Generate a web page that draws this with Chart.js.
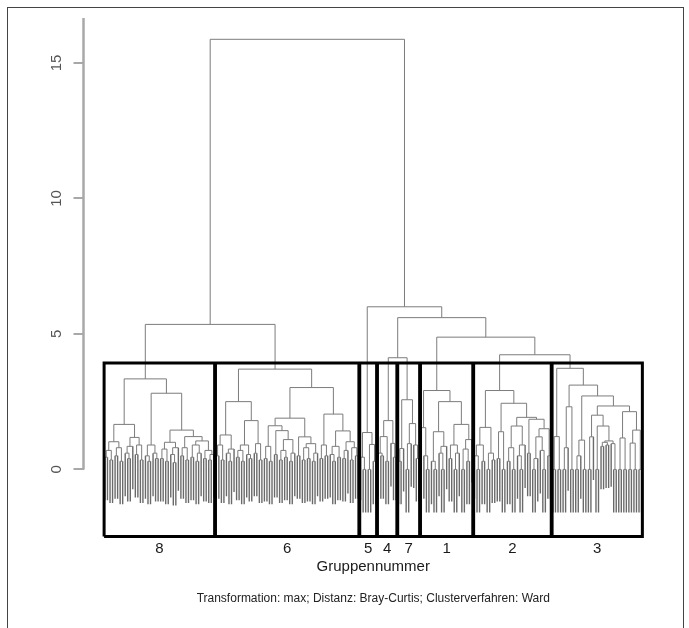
<!DOCTYPE html>
<html>
<head>
<meta charset="utf-8">
<script src="https://cdn.jsdelivr.net/npm/chart.js@4"></script>
<style>
  html, body { margin: 0; padding: 0; background: #fff; }
  #wrap { position: relative; width: 689px; height: 628px; overflow: hidden; }
  #frame { position: absolute; left: 7px; top: 7px; width: 675px; height: 700px; border: 1px solid #444; }
  #chart { position: absolute; left: 0; top: 0; }
</style>
</head>
<body>
<div id="wrap">
  <div id="frame"></div>
  <canvas id="chart" width="689" height="628"></canvas>
</div>
<script>
// groups in the order they appear along the bottom
const groups = ['8', '6', '5', '4', '7', '1', '2', '3'];

// height where each group joins its right-hand neighbour (8|6, 6|5, 5|4, ...)
const joinHeights = [5.35, 15.87, 6.0, 4.12, 5.6, 4.88, 4.23];

// merge height between neighbouring leaves inside each group
const gaps8 = [0.45, 0.7, 0.35, 1.02, 0.5, 0.8, 0.3, 1.66, 0.6, 0.4, 0.85, 1.18, 0.55, 0.9, 0.35,
  3.34, 0.5, 0.3, 0.9, 0.6, 0.4, 2.81, 0.4, 0.75, 0.3, 1.0, 0.55, 0.25, 0.8, 1.45, 0.5, 0.8, 0.35,
  1.21, 0.45, 0.9, 0.3, 0.6, 1.05, 0.4, 0.7, 0.35, 0.55];
const gaps6 = [0.5, 0.9, 0.35, 1.27, 0.6, 0.3, 0.75, 2.50, 0.45, 0.7, 0.3, 0.9, 0.55, 0.4, 1.80,
  0.6, 0.95, 0.35, 3.70, 0.4, 0.85, 0.3, 1.61, 0.55, 1.43, 0.35, 0.7, 0.45, 1.1, 0.3, 0.6, 1.89,
  0.5, 1.2, 0.35, 0.8, 0.4, 0.95, 0.3, 0.6, 3.02, 0.4, 0.9, 0.5, 2.04, 0.55, 0.3, 0.85, 0.45,
  1.42, 0.4, 0.7, 1.02, 0.35, 0.8, 0.5];
const gaps5 = [0.45, 0.0, 1.36, 0.0, 0.92, 0.3];
const gaps4 = [0.6, 0.5, 1.21, 0.3, 1.80, 0.96, 0.45];
const gaps7 = [0.3, 0.77, 2.57, 0.0, 0.95, 1.69, 0.9, 0.4];
const gaps1 = [1.54, 0.5, 0.0, 2.91, 0.3, 0.0, 1.39, 0.6, 0.0, 0.85, 2.50, 0.4, 0.9, 0.0, 0.6,
  1.66, 0.0, 0.75, 0.3, 1.1];
const gaps2 = [0.5, 0.0, 0.9, 0.3, 1.55, 0.0, 0.6, 0.35, 2.91, 0.4, 1.39, 0.0, 2.44, 0.3, 0.8,
  0.0, 1.6, 0.5, 0.0, 0.9, 1.92, 0.6, 1.85, 0.0, 0.4, 1.2, 0.7, 0.0, 1.5, 0.5];
const gaps3 = [0.0, 1.21, 0.0, 3.73, 0.0, 0.8, 2.31, 0.0, 3.11, 0.0, 0.5, 1.08, 0.0, 2.71, 0.0,
  1.2, 2.0, 0.0, 1.6, 0.85, 1.0, 0.9, 1.05, 0.95, 0.0, 2.34, 0.0, 1.16, 0.0, 2.13, 0.0, 0.97,
  0.0, 1.45, 0.0];

const yTicks = [0, 5, 10, 15];
const axisTop = 16.66;
const boxBottom = -2.48;

const xTitle = 'Gruppennummer';
const subTitle = 'Transformation: max; Distanz: Bray-Curtis; Clusterverfahren: Ward';

// ---- build the dendrogram from the neighbour heights ----
const groupGaps = [gaps8, gaps6, gaps5, gaps4, gaps7, gaps1, gaps2, gaps3];
const sizes = groupGaps.map(g => g.length + 1);
let gaps = [];
groupGaps.forEach((g, i) => {
  gaps = gaps.concat(g);
  if (i < joinHeights.length) gaps.push(joinHeights[i]);
});
const n = gaps.length + 1;
const hang = 0.1 * Math.max(...gaps);

const treePts = [];
const leafPts = [];
function seg(pts, x1, y1, x2, y2) {
  pts.push({ x: x1, y: y1 }, { x: x2, y: y2 }, { x: x2, y: null });
}

function build(lo, hi) {
  if (lo === hi) return { x: lo + 1, leaf: true };
  let k = lo;
  for (let j = lo; j < hi; j++) if (gaps[j] > gaps[k]) k = j;
  const h = gaps[k];
  const l = build(lo, k);
  const r = build(k + 1, hi);
  [l, r].forEach(c => {
    if (c.leaf) seg(leafPts, c.x, h - hang, c.x, h);
    else seg(treePts, c.x, c.h, c.x, h);
  });
  seg(treePts, l.x, h, r.x, h);
  return { x: (l.x + r.x) / 2, h: h };
}
build(0, n - 1);

// group rectangles like rect.hclust
const sorted = [...gaps].sort((a, b) => b - a);
const boxTop = (sorted[groups.length - 2] + sorted[groups.length - 1]) / 2;
const boxPts = [];
const centers = [];
let m = 0;
sizes.forEach(s => {
  const x1 = m + 0.66, x2 = m + s + 0.33;
  boxPts.push({ x: x1, y: boxBottom }, { x: x1, y: boxTop }, { x: x2, y: boxTop },
    { x: x2, y: boxBottom }, { x: x1, y: boxBottom }, { x: x1, y: null });
  centers.push(m + (s + 1) / 2);
  m += s;
});

const xMin = 1 - 0.04 * (n - 1);
const xMax = n + 0.04 * (n - 1);
const axisPts = [{ x: xMin, y: 0 }, { x: xMin, y: axisTop }];

Chart.defaults.font.family = "'Liberation Sans', Arial, sans-serif";

new Chart(document.getElementById('chart'), {
  type: 'line',
  data: {
    datasets: [
      { data: boxPts, borderColor: '#000', borderWidth: 3, clip: false, borderJoinStyle: 'miter' },
      { data: treePts, borderColor: '#7c7c7c', borderWidth: 1 },
      { data: leafPts, borderColor: '#6a6a6a', borderWidth: 1.4 },
      { data: axisPts, borderColor: '#a8a8a8', borderWidth: 2.5, clip: false }
    ]
  },
  options: {
    responsive: false,
    animation: false,
    events: [],
    elements: { point: { radius: 0 }, line: { tension: 0 } },
    layout: { padding: { top: 17.9, right: 26, left: 0, bottom: 0 } },
    plugins: {
      legend: { display: false },
      tooltip: { enabled: false },
      subtitle: {
        display: true, position: 'bottom', fullSize: false, text: subTitle,
        color: '#222', font: { size: 12, weight: 'normal' }, padding: { top: 0, bottom: 22 }
      }
    },
    scales: {
      x: {
        type: 'linear', min: xMin, max: xMax,
        afterBuildTicks: s => { s.ticks = centers.map(v => ({ value: v })); },
        afterFit: s => { s.height = 55; },
        grid: { display: false },
        border: { display: false },
        ticks: {
          autoSkip: false, maxRotation: 0, minRotation: 0, padding: -5,
          color: '#1a1a1a', font: { size: 15 },
          callback: (v, i) => groups[i]
        },
        title: {
          display: true, text: xTitle, color: '#1a1a1a', font: { size: 15 },
          padding: { top: 0, bottom: 15.9 }
        }
      },
      y: {
        type: 'linear', min: boxBottom, max: axisTop,
        afterBuildTicks: s => { s.ticks = yTicks.map(v => ({ value: v })); },
        afterFit: s => { s.width = 83.5; },
        grid: { drawOnChartArea: false, drawTicks: true, tickLength: 10, color: '#a8a8a8', lineWidth: 2 },
        border: { display: false },
        ticks: {
          minRotation: 90, maxRotation: 90, crossAlign: 'center', padding: 8,
          color: '#555', font: { size: 15 }
        }
      }
    }
  }
});
</script>
</body>
</html>
